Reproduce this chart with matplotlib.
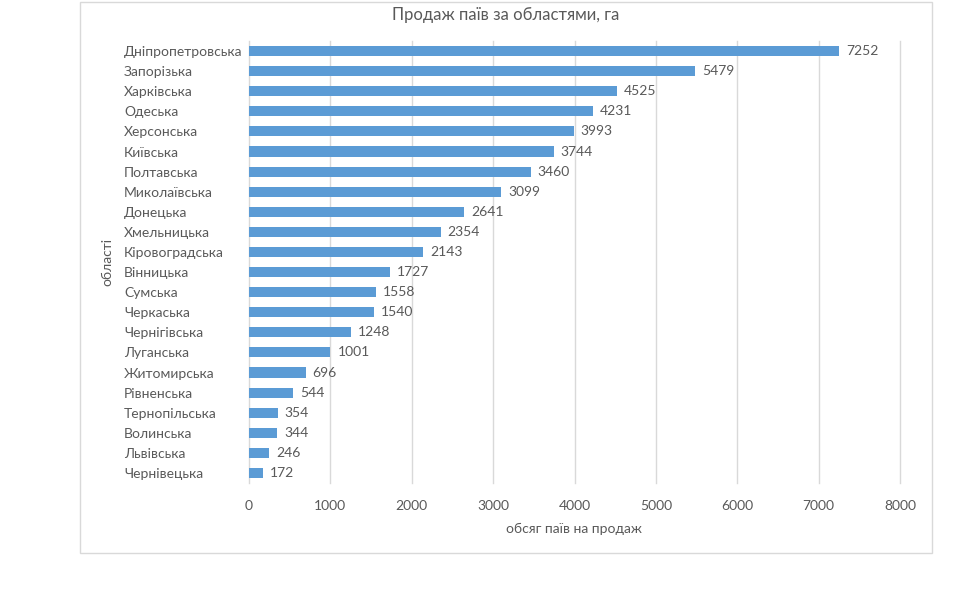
import matplotlib.pyplot as plt
from matplotlib.patches import Rectangle

plt.rcParams['font.family'] = ['Lato', 'DejaVu Sans']

regions = ["Дніпропетровська", "Запорізька", "Харківська", "Одеська", "Херсонська",
           "Київська", "Полтавська", "Миколаївська", "Донецька", "Хмельницька",
           "Кіровоградська", "Вінницька", "Сумська", "Черкаська", "Чернігівська",
           "Луганська", "Житомирська", "Рівненська", "Тернопільська", "Волинська",
           "Львівська", "Чернівецька"]
values = [7252, 5479, 4525, 4231, 3993, 3744, 3460, 3099, 2641, 2354, 2143, 1727,
          1558, 1540, 1248, 1001, 696, 544, 354, 344, 246, 172]
xticks = [0, 1000, 2000, 3000, 4000, 5000, 6000, 7000, 8000]

text_color = "#595959"
bar_color = "#5b9bd5"
grid_color = "#d9d9d9"

W, H = 971, 594
fig = plt.figure(figsize=(W / 100, H / 100), dpi=100)
# outer chart border
fig.patches.append(Rectangle((80 / W, 1 - 553 / H), (932 - 80) / W, (553 - 2) / H,
                             transform=fig.transFigure, fill=False,
                             edgecolor=grid_color, linewidth=1))

ax = fig.add_axes([249 / W, 1 - 483 / H, (900 - 249) / W, (483 - 41) / H])
pos = list(range(len(regions)))
ax.barh(pos, values, height=0.5, color=bar_color, zorder=3)
ax.set_ylim(len(regions) - 0.5, -0.5)
ax.set_xlim(0, 8000)
ax.set_xticks(xticks)
ax.set_yticks(pos)
ax.set_yticklabels(regions, ha="left")
ax.grid(axis="x", color=grid_color, linewidth=1, zorder=0)
for gl in ax.get_xgridlines():
    gl.set_clip_on(False)
for s in ax.spines.values():
    s.set_visible(False)
ax.tick_params(length=0, colors=text_color, labelsize=10)
ax.tick_params(axis="x", pad=12)
# left-aligned category labels starting at x=124px
ax.tick_params(axis="y", pad=(249 - 124) * 0.72)

for p, v in zip(pos, values):
    ax.annotate(str(v), (v, p), xytext=(5, 0), textcoords="offset points",
                va="center", ha="left", fontsize=10, color=text_color)

fig.text(506 / W, 1 - 15 / H, "Продаж паїв за областями, га", ha="center", va="center",
         fontsize=12, color=text_color)
fig.text(574 / W, 1 - 529 / H, "обсяг паїв на продаж", ha="center", va="center",
         fontsize=10, color=text_color)
fig.text(107 / W, 1 - 262 / H, "області", ha="center", va="center", rotation=90,
         fontsize=10, color=text_color)

fig.savefig("out.png", dpi=100, facecolor="white")
